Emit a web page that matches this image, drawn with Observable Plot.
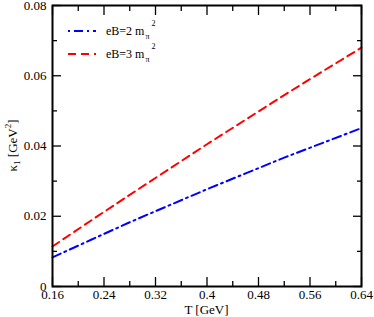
<!DOCTYPE html>
<html><head><meta charset="utf-8">
<script src="https://cdn.jsdelivr.net/npm/d3@7"></script>
<script src="https://cdn.jsdelivr.net/npm/@observablehq/plot@0.6"></script>
<style>
body{margin:0;background:#fff}
</style>
</head><body><div id="chart"></div>
<script>
// Data
const T = [0.16, 0.22, 0.28, 0.34, 0.40, 0.46, 0.52, 0.58, 0.64];
const kappaEB2 = [0.0083, 0.0133, 0.0183, 0.0230, 0.0277, 0.0322, 0.0367, 0.0409, 0.0451];
const kappaEB3 = [0.0114, 0.0188, 0.0261, 0.0333, 0.0405, 0.0475, 0.0545, 0.0613, 0.0680];
const seriesNames = ["eB=2 m", "eB=3 m"];
const seriesColors = ["#0000ff", "#ff0000"];
const seriesDashes = ["9,4,2,4", "8,5"];
const legendDashes = ["2,4,9,4", "8,5"];

const xMajor = [0.16, 0.24, 0.32, 0.40, 0.48, 0.56, 0.64];
const xLabels = ["0.16", "0.24", "0.32", "0.4", "0.48", "0.56", "0.64"];
const xMinor = [0.20, 0.28, 0.36, 0.44, 0.52, 0.60];
const yMajor = [0, 0.02, 0.04, 0.06, 0.08];
const yLabels = ["0", "0.02", "0.04", "0.06", "0.08"];
const yMinor = [0.01, 0.03, 0.05, 0.07];

const W = 374, H = 317;
const mL = 52, mR = 13, mT = 5, mB = 31;
const FONT = '"Liberation Serif", "Times New Roman", serif';

const rows = [
  T.map((t, i) => ({T: t, k: kappaEB2[i]})),
  T.map((t, i) => ({T: t, k: kappaEB3[i]}))
];

const tickStyle = {stroke: "#000", strokeWidth: 1.3};
const plot = Plot.plot({
  width: W, height: H,
  marginLeft: mL, marginRight: mR, marginTop: mT, marginBottom: mB,
  style: {fontFamily: FONT, fontSize: "13px", background: "#fff", color: "#000", overflow: "visible"},
  x: {domain: [0.16, 0.64]},
  y: {domain: [0, 0.08]},
  marks: [
    ...rows.map((r, i) => Plot.line(r, {x: "T", y: "k", stroke: seriesColors[i], strokeWidth: 2, strokeDasharray: seriesDashes[i]})),
    Plot.axisX(xMajor, {anchor: "bottom", tickSize: 0, tickPadding: 3, tickFormat: d => xLabels[xMajor.indexOf(d)], label: null, fill: "#000"}),
    Plot.axisY(yMajor, {anchor: "left", tickSize: 0, tickPadding: 6, tickFormat: d => yLabels[yMajor.indexOf(d)], label: null, fill: "#000"}),
    Plot.axisX(xMajor, {anchor: "bottom", tickSize: -9, text: null, label: null, ...tickStyle}),
    Plot.axisX(xMinor, {anchor: "bottom", tickSize: -5, text: null, label: null, ...tickStyle}),
    Plot.axisX(xMajor, {anchor: "top", tickSize: -9, text: null, label: null, ...tickStyle}),
    Plot.axisX(xMinor, {anchor: "top", tickSize: -5, text: null, label: null, ...tickStyle}),
    Plot.axisY(yMajor, {anchor: "left", tickSize: -9, text: null, label: null, ...tickStyle}),
    Plot.axisY(yMinor, {anchor: "left", tickSize: -5, text: null, label: null, ...tickStyle}),
    Plot.axisY(yMajor, {anchor: "right", tickSize: -9, text: null, label: null, ...tickStyle}),
    Plot.axisY(yMinor, {anchor: "right", tickSize: -5, text: null, label: null, ...tickStyle}),
    Plot.frame({stroke: "#000", strokeWidth: 2})
  ]
});
document.getElementById("chart").appendChild(plot);

const svg = d3.select(plot);
svg.selectAll("text").style("font-family", FONT).style("font-size", "13px");
const cx = (mL + W - mR) / 2;
// X label
svg.append("text").attr("x", cx).attr("y", 314).attr("text-anchor", "middle")
  .style("font-family", FONT).style("font-size", "13px").attr("fill", "#000").text("T [GeV]");
// Y label with subscript / superscript
const yl = svg.append("text").attr("transform", `translate(17,${(mT + H - mB) / 2}) rotate(-90)`)
  .attr("text-anchor", "middle").style("font-family", FONT).style("font-size", "13px").attr("fill", "#000");
yl.append("tspan").text("κ");
yl.append("tspan").style("font-size", "9px").attr("dy", 3).text("1");
yl.append("tspan").attr("dy", -3).text(" [GeV");
yl.append("tspan").style("font-size", "9px").attr("dy", -6).text("2");
yl.append("tspan").attr("dy", 6).text("]");

// Legend
const legY = [31, 54];
seriesNames.forEach((name, i) => {
  svg.append("line").attr("x1", 68).attr("x2", 96).attr("y1", legY[i]).attr("y2", legY[i])
    .attr("stroke", seriesColors[i]).attr("stroke-width", 2).attr("stroke-dasharray", legendDashes[i]);
  const t = svg.append("text").attr("x", 106).attr("y", legY[i] + 4).attr("text-anchor", "start")
    .style("font-family", FONT).style("font-size", "12px").attr("fill", "#000");
  t.append("tspan").text(name);
  t.append("tspan").style("font-size", "8px").attr("dx", 1).attr("dy", 4).text("π");
  t.append("tspan").style("font-size", "8px").attr("dx", 2).attr("dy", -13).text("2");
});
</script>
</body></html>
